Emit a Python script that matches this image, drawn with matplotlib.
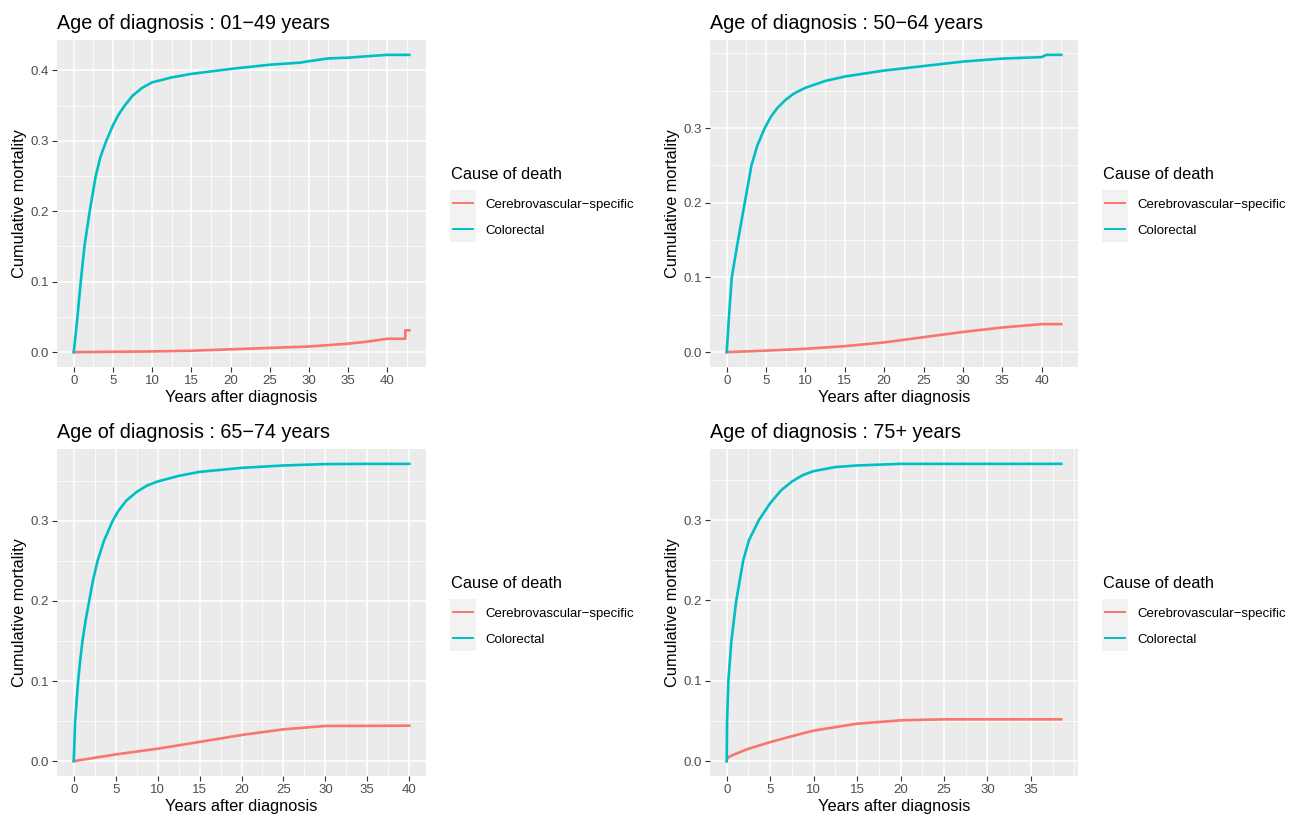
import matplotlib
matplotlib.use("Agg")
import numpy as np
import matplotlib.pyplot as plt
from matplotlib.lines import Line2D
from matplotlib.patches import Rectangle
from matplotlib.ticker import MultipleLocator, FixedLocator, FormatStrFormatter

plt.rcParams['font.family'] = ['Liberation Sans', 'DejaVu Sans']

# values (years after diagnosis, cumulative mortality)
titles = ["Age of diagnosis : 01\u221249 years", "Age of diagnosis : 50\u221264 years",
          "Age of diagnosis : 65\u221274 years", "Age of diagnosis : 75+ years"]
causes = ["Cerebrovascular\u2212specific", "Colorectal"]

crc1_t = [0, 0.47, 0.89, 1.36, 2.03, 2.8, 3.4, 4.15, 5.0, 5.7, 6.5, 7.5, 8.7, 10, 12.5, 15, 20, 25, 28.9, 30, 32.5, 35, 37.4, 40, 42.8]
crc1_y = [0, 0.05, 0.1, 0.15, 0.2, 0.25, 0.277, 0.3, 0.322, 0.337, 0.35, 0.364, 0.375, 0.383, 0.390, 0.395, 0.402, 0.408, 0.411, 0.413, 0.417, 0.418, 0.420, 0.422, 0.422]
cvd1_t = [0, 5, 10, 15, 20, 25, 30, 35, 37.5, 40, 42.3, 42.3, 42.8]
cvd1_y = [0, 0.0005, 0.001, 0.002, 0.004, 0.006, 0.008, 0.012, 0.015, 0.019, 0.019, 0.031, 0.031]

crc2_t = [0, 0.3, 0.64, 1.44, 2.29, 3.14, 3.9, 4.83, 5.6, 6.44, 7.5, 8.5, 10, 12.5, 15, 20, 25, 30, 35, 40, 40.6, 42.5]
crc2_y = [0, 0.05, 0.1, 0.15, 0.2, 0.25, 0.277, 0.3, 0.315, 0.327, 0.338, 0.346, 0.354, 0.363, 0.369, 0.377, 0.383, 0.389, 0.393, 0.395, 0.398, 0.398]
cvd2_t = [0, 5, 10, 15, 20, 25, 30, 35, 40, 42.5]
cvd2_y = [0, 0.002, 0.0045, 0.008, 0.013, 0.020, 0.027, 0.033, 0.0375, 0.0375]

crc3_t = [0, 0.16, 0.52, 0.76, 1.04, 1.4, 1.84, 2.28, 2.84, 3.6, 4.64, 5.3, 6.25, 7.5, 8.75, 10, 12.5, 15, 20, 25, 30, 35, 40]
crc3_y = [0, 0.05, 0.1, 0.125, 0.15, 0.175, 0.2, 0.225, 0.25, 0.275, 0.3, 0.312, 0.325, 0.336, 0.344, 0.349, 0.356, 0.361, 0.366, 0.369, 0.3707, 0.371, 0.371]
cvd3_t = [0, 5, 10, 15, 20, 25, 30, 35, 40]
cvd3_y = [0, 0.0084, 0.0155, 0.024, 0.0326, 0.0397, 0.0439, 0.044, 0.0443]

crc4_t = [0, 0.04, 0.19, 0.54, 1.1, 1.9, 2.56, 3.7, 5, 6.25, 7.5, 8.75, 10, 12.5, 15, 20, 25, 38.5]
crc4_y = [0, 0.05, 0.1, 0.15, 0.2, 0.25, 0.275, 0.3, 0.321, 0.337, 0.348, 0.356, 0.361, 0.366, 0.368, 0.370, 0.370, 0.370]
cvd4_t = [0, 0.05, 0.2, 1, 2.5, 5, 7.5, 10, 15, 20, 25, 38.5]
cvd4_y = [0, 0.003, 0.005, 0.009, 0.0154, 0.0237, 0.031, 0.038, 0.0466, 0.0508, 0.052, 0.052]

panels = [
    (titles[0], cvd1_t, cvd1_y, crc1_t, crc1_y),
    (titles[1], cvd2_t, cvd2_y, crc2_t, crc2_y),
    (titles[2], cvd3_t, cvd3_y, crc3_t, crc3_y),
    (titles[3], cvd4_t, cvd4_y, crc4_t, crc4_y),
]

RED = "#F8766D"
CYAN = "#00BFC4"
W, H = 1304, 816

fig = plt.figure(figsize=(W / 100, H / 100), dpi=100)

# panel boxes in pixels: left, top, right, bottom
boxes = [(57, 40, 426, 367), (710, 40, 1078, 367),
         (57, 449, 426, 776), (710, 449, 1078, 776)]


def fx(px):
    return px / W


def fy(py):
    return 1 - py / H


for (title, rt, ry, ct, cy), (l, t, r, b) in zip(panels, boxes):
    ax = fig.add_axes([fx(l), fy(b), fx(r - l), (b - t) / H])
    ax.set_facecolor("#EBEBEB")
    ax.plot(rt, ry, color=RED, lw=1.9, solid_joinstyle='round')
    ax.plot(ct, cy, color=CYAN, lw=1.9, solid_joinstyle='round')

    xmax = max(max(rt), max(ct))
    ymax = max(max(ry), max(cy))
    ax.set_xlim(-0.05 * xmax, 1.05 * xmax)
    ax.set_ylim(-0.05 * ymax, 1.05 * ymax)

    # ggplot keeps only breaks inside the data range, minor lines run on
    ax.xaxis.set_major_locator(FixedLocator(np.arange(0, xmax + 1e-9, 5)))
    ax.xaxis.set_minor_locator(MultipleLocator(2.5))
    ax.yaxis.set_major_locator(FixedLocator(np.arange(0, ymax + 1e-9, 0.1)))
    ax.yaxis.set_minor_locator(MultipleLocator(0.05))
    ax.yaxis.set_major_formatter(FormatStrFormatter('%.1f'))
    ax.grid(which='major', color='white', lw=1.1)
    ax.grid(which='minor', color='white', lw=0.55)
    ax.set_axisbelow(True)
    for s in ax.spines.values():
        s.set_visible(False)
    ax.tick_params(which='major', length=3.3, width=0.8, color='#333333',
                   labelcolor='#4D4D4D', labelsize=9.5, pad=2.2)
    ax.tick_params(which='minor', length=0)

    ax.set_title(title, loc='left', fontsize=14.2, pad=7.7)
    ax.set_xlabel("Years after diagnosis", fontsize=11.8, labelpad=2.5)
    ax.set_ylabel("Cumulative mortality", fontsize=11.8, labelpad=2.5)

    # legend, ggplot style, to the right of the panel
    lx = r + 24
    cyc = (t + b) / 2
    fig.text(fx(lx + 1), fy(cyc - 24.2), "Cause of death", fontsize=11.8,
             va='baseline', ha='left')
    fig.add_artist(Rectangle((fx(lx), fy(cyc + 38.2)), fx(26), 51.7 / H,
                             transform=fig.transFigure, facecolor='#F2F2F2',
                             edgecolor='none'))
    for k, (name, col) in enumerate(zip(causes, [RED, CYAN])):
        yy = fy(cyc - 0.8 + k * 26.6)
        fig.add_artist(Line2D([fx(lx + 2.7), fx(lx + 23.3)], [yy, yy], color=col,
                              lw=1.4, transform=fig.transFigure))
        fig.text(fx(lx + 35), fy(cyc + 4.2 + k * 26.3), name, fontsize=9.5,
                 va='baseline', ha='left')

fig.savefig("out.png", dpi=100)
